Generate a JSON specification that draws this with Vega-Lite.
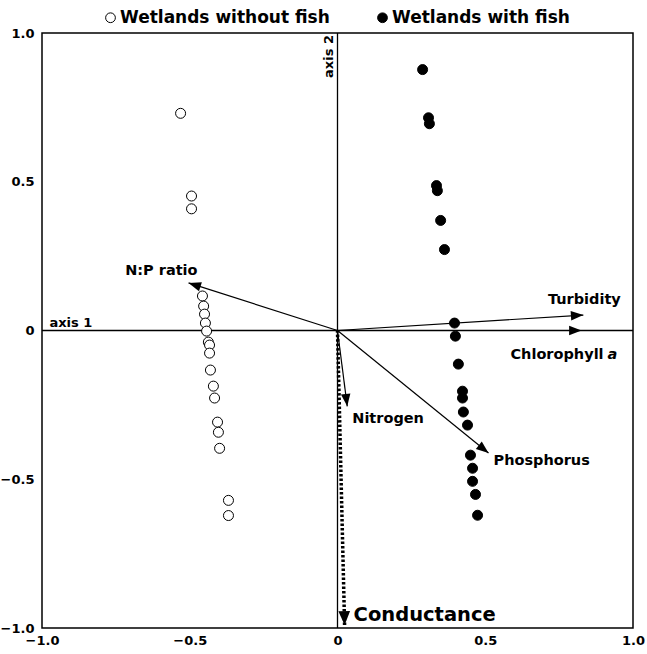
{
  "$schema": "https://vega.github.io/schema/vega-lite/v6.json",
  "autosize": "none",
  "width": 591,
  "height": 595,
  "padding": {"left": 42, "top": 33, "right": 14, "bottom": 26},
  "background": "white",
  "config": {
    "view": {"stroke": "black", "strokeWidth": 1.5},
    "font": "DejaVu Sans",
    "axis": {"domain": false, "ticks": false, "grid": false, "labelFont": "DejaVu Sans", "labelFontWeight": "bold", "labelFontSize": 13, "labelColor": "black", "title": null, "labelOverlap": false, "labelFlush": false}
  },
  "datasets": {
    "sites": [
      {"group": "Wetlands without fish", "x": -0.531, "y": 0.73},
      {"group": "Wetlands without fish", "x": -0.494, "y": 0.452},
      {"group": "Wetlands without fish", "x": -0.494, "y": 0.409},
      {"group": "Wetlands without fish", "x": -0.457, "y": 0.116},
      {"group": "Wetlands without fish", "x": -0.453, "y": 0.082},
      {"group": "Wetlands without fish", "x": -0.450, "y": 0.055},
      {"group": "Wetlands without fish", "x": -0.447, "y": 0.025},
      {"group": "Wetlands without fish", "x": -0.443, "y": -0.002},
      {"group": "Wetlands without fish", "x": -0.437, "y": -0.039},
      {"group": "Wetlands without fish", "x": -0.433, "y": -0.049},
      {"group": "Wetlands without fish", "x": -0.433, "y": -0.076},
      {"group": "Wetlands without fish", "x": -0.430, "y": -0.133},
      {"group": "Wetlands without fish", "x": -0.420, "y": -0.187},
      {"group": "Wetlands without fish", "x": -0.416, "y": -0.227},
      {"group": "Wetlands without fish", "x": -0.406, "y": -0.308},
      {"group": "Wetlands without fish", "x": -0.403, "y": -0.342},
      {"group": "Wetlands without fish", "x": -0.399, "y": -0.396},
      {"group": "Wetlands without fish", "x": -0.369, "y": -0.571},
      {"group": "Wetlands without fish", "x": -0.369, "y": -0.622},
      {"group": "Wetlands with fish", "x": 0.288, "y": 0.877},
      {"group": "Wetlands with fish", "x": 0.308, "y": 0.715},
      {"group": "Wetlands with fish", "x": 0.311, "y": 0.695},
      {"group": "Wetlands with fish", "x": 0.335, "y": 0.487},
      {"group": "Wetlands with fish", "x": 0.338, "y": 0.470},
      {"group": "Wetlands with fish", "x": 0.349, "y": 0.370},
      {"group": "Wetlands with fish", "x": 0.362, "y": 0.272},
      {"group": "Wetlands with fish", "x": 0.396, "y": 0.025},
      {"group": "Wetlands with fish", "x": 0.399, "y": -0.019},
      {"group": "Wetlands with fish", "x": 0.409, "y": -0.113},
      {"group": "Wetlands with fish", "x": 0.423, "y": -0.204},
      {"group": "Wetlands with fish", "x": 0.423, "y": -0.227},
      {"group": "Wetlands with fish", "x": 0.426, "y": -0.274},
      {"group": "Wetlands with fish", "x": 0.440, "y": -0.318},
      {"group": "Wetlands with fish", "x": 0.450, "y": -0.419},
      {"group": "Wetlands with fish", "x": 0.457, "y": -0.463},
      {"group": "Wetlands with fish", "x": 0.457, "y": -0.507},
      {"group": "Wetlands with fish", "x": 0.467, "y": -0.551},
      {"group": "Wetlands with fish", "x": 0.474, "y": -0.621}
    ],
    "vectors": [
      {"variable": "N:P ratio", "x": -0.504, "y": 0.160},
      {"variable": "Turbidity", "x": 0.832, "y": 0.052},
      {"variable": "Chlorophyll a", "x": 0.826, "y": 0.0},
      {"variable": "Nitrogen", "x": 0.033, "y": -0.255},
      {"variable": "Phosphorus", "x": 0.511, "y": -0.412},
      {"variable": "Conductance", "x": 0.024, "y": -0.99}
    ]
  },
  "layer": [
    {
      "data": {"values": [{}]},
      "mark": {"type": "rule", "color": "black", "strokeWidth": 1.3},
      "encoding": {"x": {"datum": 0, "type": "quantitative", "scale": {"domain": [-1, 1], "nice": false, "zero": false}, "axis": {"values": [-1, -0.5, 0, 0.5, 1], "labelExpr": "datum.value == 0 ? '0' : format(datum.value, '.1f')", "labelPadding": 6}}}
    },
    {
      "data": {"values": [{}]},
      "mark": {"type": "rule", "color": "black", "strokeWidth": 1.3},
      "encoding": {"y": {"datum": 0, "type": "quantitative", "scale": {"domain": [-1, 1], "nice": false, "zero": false}, "axis": {"values": [-1, -0.5, 0, 0.5, 1], "labelExpr": "datum.value == 0 ? '0' : format(datum.value, '.1f')", "labelPadding": 8}}}
    },
    {
      "data": {"values": [{}]},
      "mark": {"type": "text", "text": "axis 1", "align": "left", "baseline": "bottom", "dy": -1, "fontWeight": "bold", "fontSize": 13, "color": "black"},
      "encoding": {"x": {"datum": -0.975, "type": "quantitative"}, "y": {"datum": 0, "type": "quantitative"}}
    },
    {
      "data": {"values": [{}]},
      "mark": {"type": "text", "text": "axis 2", "align": "right", "baseline": "bottom", "angle": 270, "dx": -2, "dy": -2, "fontWeight": "bold", "fontSize": 13, "color": "black"},
      "encoding": {"x": {"datum": 0, "type": "quantitative"}, "y": {"datum": 1, "type": "quantitative"}}
    },
    {
      "data": {"name": "vectors"},
      "transform": [{"filter": "datum.variable != 'Conductance'"}],
      "mark": {"type": "rule", "color": "black", "strokeWidth": 1.2},
      "encoding": {
        "x": {"field": "x", "type": "quantitative"},
        "y": {"field": "y", "type": "quantitative"},
        "x2": {"datum": 0},
        "y2": {"datum": 0}
      }
    },
    {
      "data": {"name": "vectors"},
      "transform": [{"filter": "datum.variable == 'Conductance'"}],
      "mark": {"type": "rule", "color": "black", "strokeWidth": 3.5, "strokeDash": [2.5, 2]},
      "encoding": {
        "x": {"field": "x", "type": "quantitative"},
        "y": {"field": "y", "type": "quantitative"},
        "x2": {"datum": 0},
        "y2": {"datum": 0}
      }
    },
    {
      "data": {"name": "vectors"},
      "transform": [{"filter": "datum.variable != 'Conductance'"}, {"calculate": "atan2(datum.x, datum.y) * 180 / PI", "as": "heading"}],
      "mark": {"type": "point", "shape": "M0,0L0.38,1L-0.38,1Z", "filled": true, "color": "black", "opacity": 1, "size": 620, "strokeWidth": 0},
      "encoding": {
        "x": {"field": "x", "type": "quantitative"},
        "y": {"field": "y", "type": "quantitative"},
        "angle": {"field": "heading", "type": "quantitative", "scale": null}
      }
    },
    {
      "data": {"name": "vectors"},
      "transform": [{"filter": "datum.variable == 'Conductance'"}, {"calculate": "atan2(datum.x, datum.y) * 180 / PI", "as": "heading"}],
      "mark": {"type": "point", "shape": "M0,0L0.42,1L-0.42,1Z", "filled": true, "color": "black", "opacity": 1, "size": 780, "strokeWidth": 0},
      "encoding": {
        "x": {"field": "x", "type": "quantitative"},
        "y": {"field": "y", "type": "quantitative"},
        "angle": {"field": "heading", "type": "quantitative", "scale": null}
      }
    },
    {
      "data": {"name": "sites"},
      "mark": {"type": "point", "shape": "circle", "size": 100, "stroke": "black", "strokeWidth": 1, "opacity": 1},
      "encoding": {
        "x": {"field": "x", "type": "quantitative"},
        "y": {"field": "y", "type": "quantitative"},
        "fill": {
          "field": "group", "type": "nominal",
          "scale": {"domain": ["Wetlands without fish", "Wetlands with fish"], "range": ["white", "black"]},
          "legend": {
            "title": null, "orient": "none", "direction": "horizontal", "legendX": 60, "legendY": -24,
            "labelFont": "DejaVu Sans", "labelFontWeight": "bold", "labelFontSize": 17, "labelColor": "black",
            "symbolType": "circle", "symbolSize": 95, "symbolStrokeColor": "black", "symbolStrokeWidth": 1,
            "labelOffset": 1, "columnPadding": 44, "labelLimit": 400
          }
        }
      }
    },
    {
      "data": {"name": "vectors"},
      "transform": [{"filter": "datum.variable == 'N:P ratio'"}],
      "mark": {"type": "text", "align": "right", "baseline": "middle", "dx": 9, "dy": -12, "fontWeight": "bold", "fontSize": 14.5, "color": "black"},
      "encoding": {"x": {"field": "x", "type": "quantitative"}, "y": {"field": "y", "type": "quantitative"}, "text": {"field": "variable"}}
    },
    {
      "data": {"name": "vectors"},
      "transform": [{"filter": "datum.variable == 'Turbidity'"}],
      "mark": {"type": "text", "align": "center", "baseline": "middle", "dx": 1, "dy": -15, "fontWeight": "bold", "fontSize": 14.5, "color": "black"},
      "encoding": {"x": {"field": "x", "type": "quantitative"}, "y": {"field": "y", "type": "quantitative"}, "text": {"field": "variable"}}
    },
    {
      "data": {"name": "vectors"},
      "transform": [{"filter": "datum.variable == 'Chlorophyll a'"}],
      "mark": {"type": "text", "align": "right", "baseline": "middle", "dx": 22, "dy": 24, "fontWeight": "bold", "fontSize": 14.5, "color": "black", "text": "Chlorophyll"},
      "encoding": {"x": {"field": "x", "type": "quantitative"}, "y": {"field": "y", "type": "quantitative"}}
    },
    {
      "data": {"name": "vectors"},
      "transform": [{"filter": "datum.variable == 'Chlorophyll a'"}],
      "mark": {"type": "text", "align": "left", "baseline": "middle", "dx": 26, "dy": 24, "fontWeight": "bold", "fontStyle": "italic", "fontSize": 14.5, "color": "black", "text": "a"},
      "encoding": {"x": {"field": "x", "type": "quantitative"}, "y": {"field": "y", "type": "quantitative"}}
    },
    {
      "data": {"name": "vectors"},
      "transform": [{"filter": "datum.variable == 'Nitrogen'"}],
      "mark": {"type": "text", "align": "left", "baseline": "middle", "dx": 5, "dy": 13, "fontWeight": "bold", "fontSize": 14.5, "color": "black"},
      "encoding": {"x": {"field": "x", "type": "quantitative"}, "y": {"field": "y", "type": "quantitative"}, "text": {"field": "variable"}}
    },
    {
      "data": {"name": "vectors"},
      "transform": [{"filter": "datum.variable == 'Phosphorus'"}],
      "mark": {"type": "text", "align": "left", "baseline": "middle", "dx": 5, "dy": 8, "fontWeight": "bold", "fontSize": 14.5, "color": "black"},
      "encoding": {"x": {"field": "x", "type": "quantitative"}, "y": {"field": "y", "type": "quantitative"}, "text": {"field": "variable"}}
    },
    {
      "data": {"name": "vectors"},
      "transform": [{"filter": "datum.variable == 'Conductance'"}],
      "mark": {"type": "text", "align": "left", "baseline": "middle", "dx": 9, "dy": -10, "fontWeight": "bold", "fontSize": 19.5, "color": "black"},
      "encoding": {"x": {"field": "x", "type": "quantitative"}, "y": {"field": "y", "type": "quantitative"}, "text": {"field": "variable"}}
    }
  ]
}
